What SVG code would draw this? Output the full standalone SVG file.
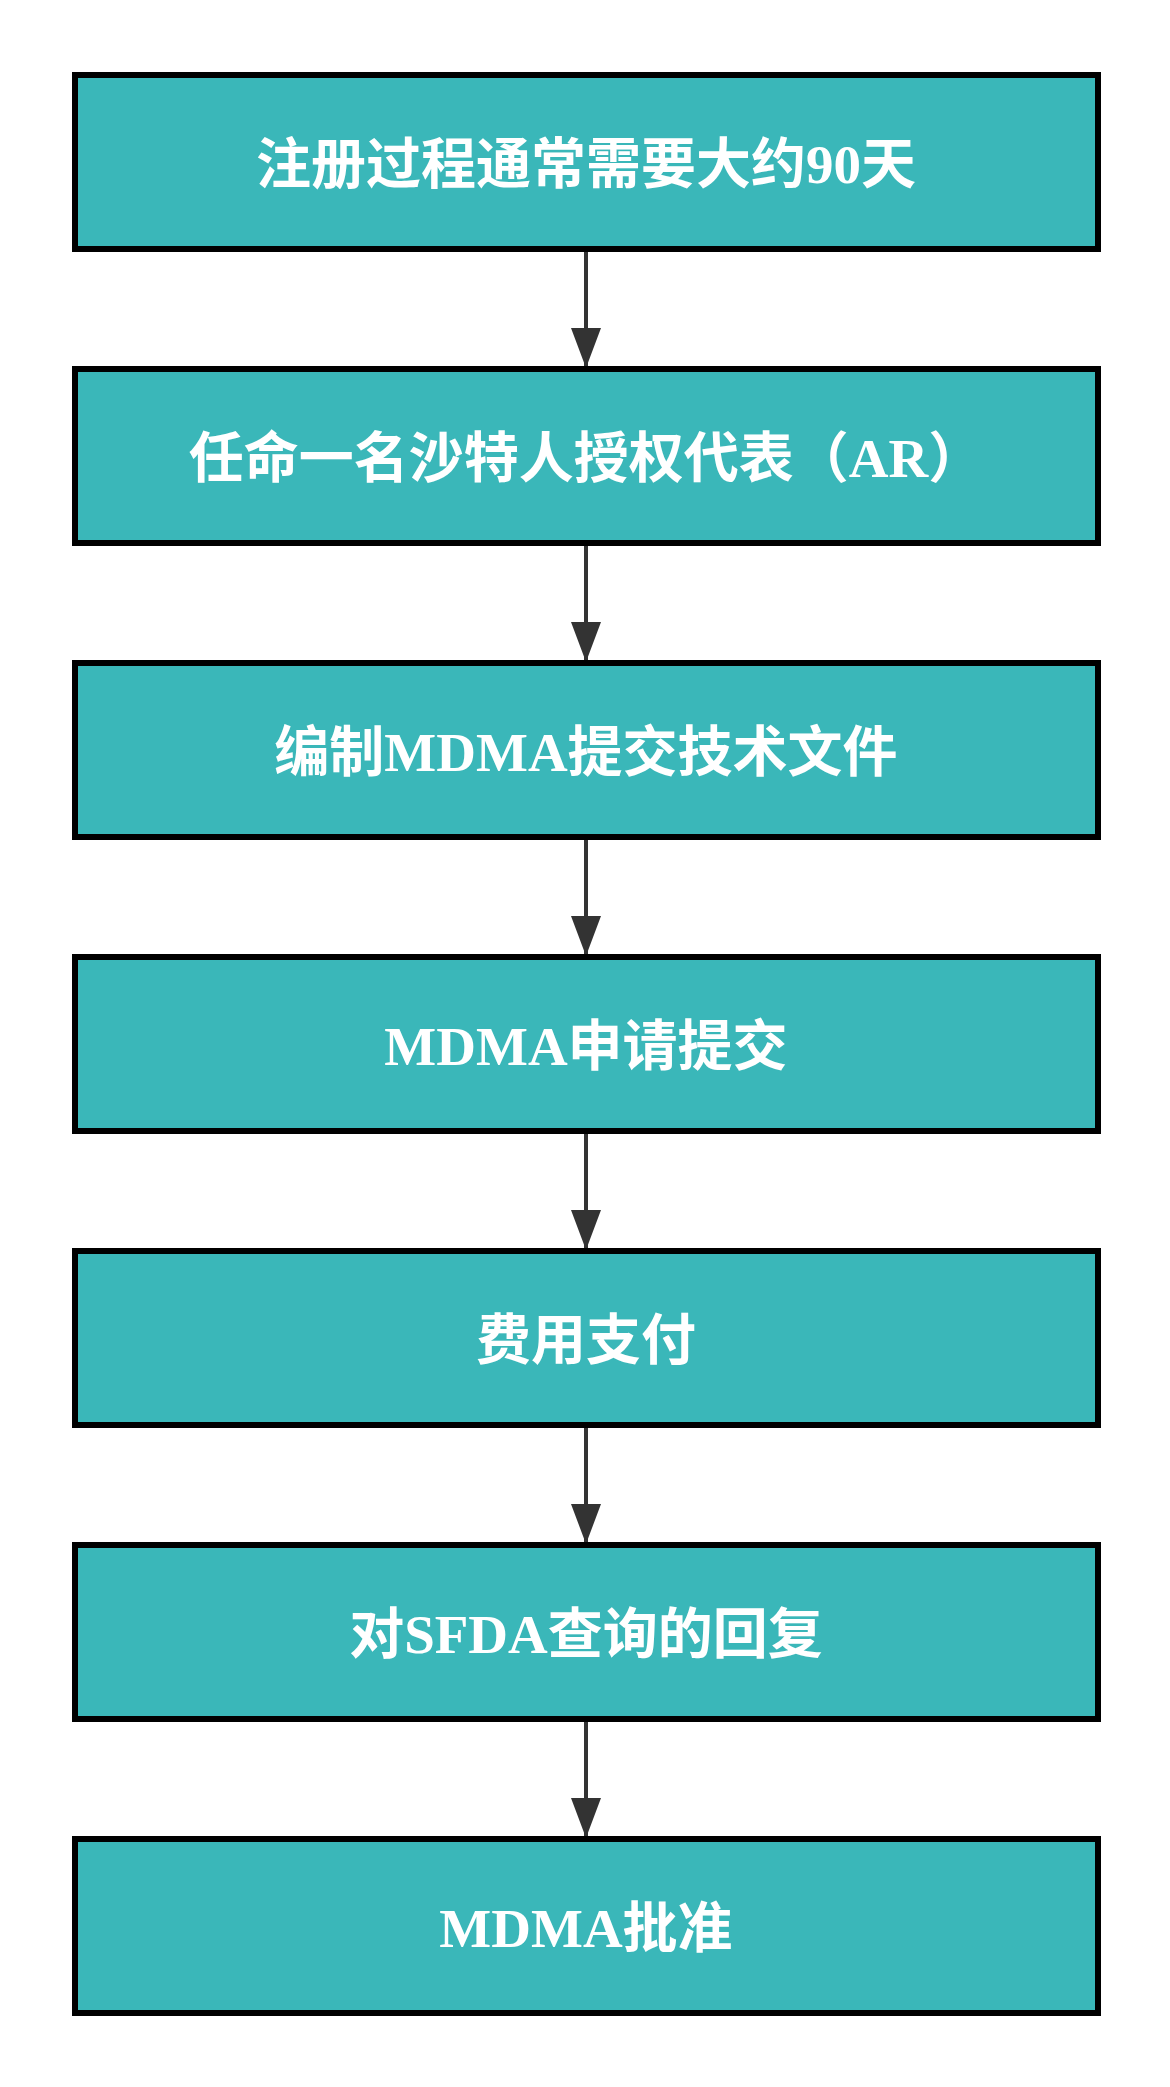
<svg xmlns="http://www.w3.org/2000/svg" width="1170" height="2087" viewBox="0 0 1170 2087">
<style>
.n rect{fill:#3ab7b9;stroke:#000;stroke-width:6}
.n text{fill:#fff;font-family:"Liberation Serif","Noto Sans CJK SC",serif;font-weight:bold;font-size:55px;text-anchor:middle;dominant-baseline:central}
.c line{stroke:#333;stroke-width:4}
</style>
<defs><marker id="b" viewBox="0 0 40 30" refX="40" refY="15" markerWidth="40" markerHeight="30" orient="auto" markerUnits="userSpaceOnUse"><path d="M0,0L40,15L0,30Z" fill="#333"/></marker></defs>
<rect width="1170" height="2087" fill="#fff"/>
<g class="c">
<line x1="586" y1="250" x2="586" y2="368" marker-end="url(#b)"/>
<line x1="586" y1="544" x2="586" y2="662" marker-end="url(#b)"/>
<line x1="586" y1="838" x2="586" y2="956" marker-end="url(#b)"/>
<line x1="586" y1="1132" x2="586" y2="1250" marker-end="url(#b)"/>
<line x1="586" y1="1426" x2="586" y2="1544" marker-end="url(#b)"/>
<line x1="586" y1="1720" x2="586" y2="1838" marker-end="url(#b)"/>
</g>
<g id="n1" class="n"><rect x="75" y="75" width="1023" height="174"/><text x="586" y="164">注册过程通常需要大约90天</text></g>
<g id="n2" class="n"><rect x="75" y="369" width="1023" height="174"/><text x="586" y="458">任命一名沙特人授权代表（AR）</text></g>
<g id="n3" class="n"><rect x="75" y="663" width="1023" height="174"/><text x="586" y="752">编制MDMA提交技术文件</text></g>
<g id="n4" class="n"><rect x="75" y="957" width="1023" height="174"/><text x="586" y="1046">MDMA申请提交</text></g>
<g id="n5" class="n"><rect x="75" y="1251" width="1023" height="174"/><text x="586" y="1340">费用支付</text></g>
<g id="n6" class="n"><rect x="75" y="1545" width="1023" height="174"/><text x="586" y="1634">对SFDA查询的回复</text></g>
<g id="n7" class="n"><rect x="75" y="1839" width="1023" height="174"/><text x="586" y="1928">MDMA批准</text></g>
</svg>
